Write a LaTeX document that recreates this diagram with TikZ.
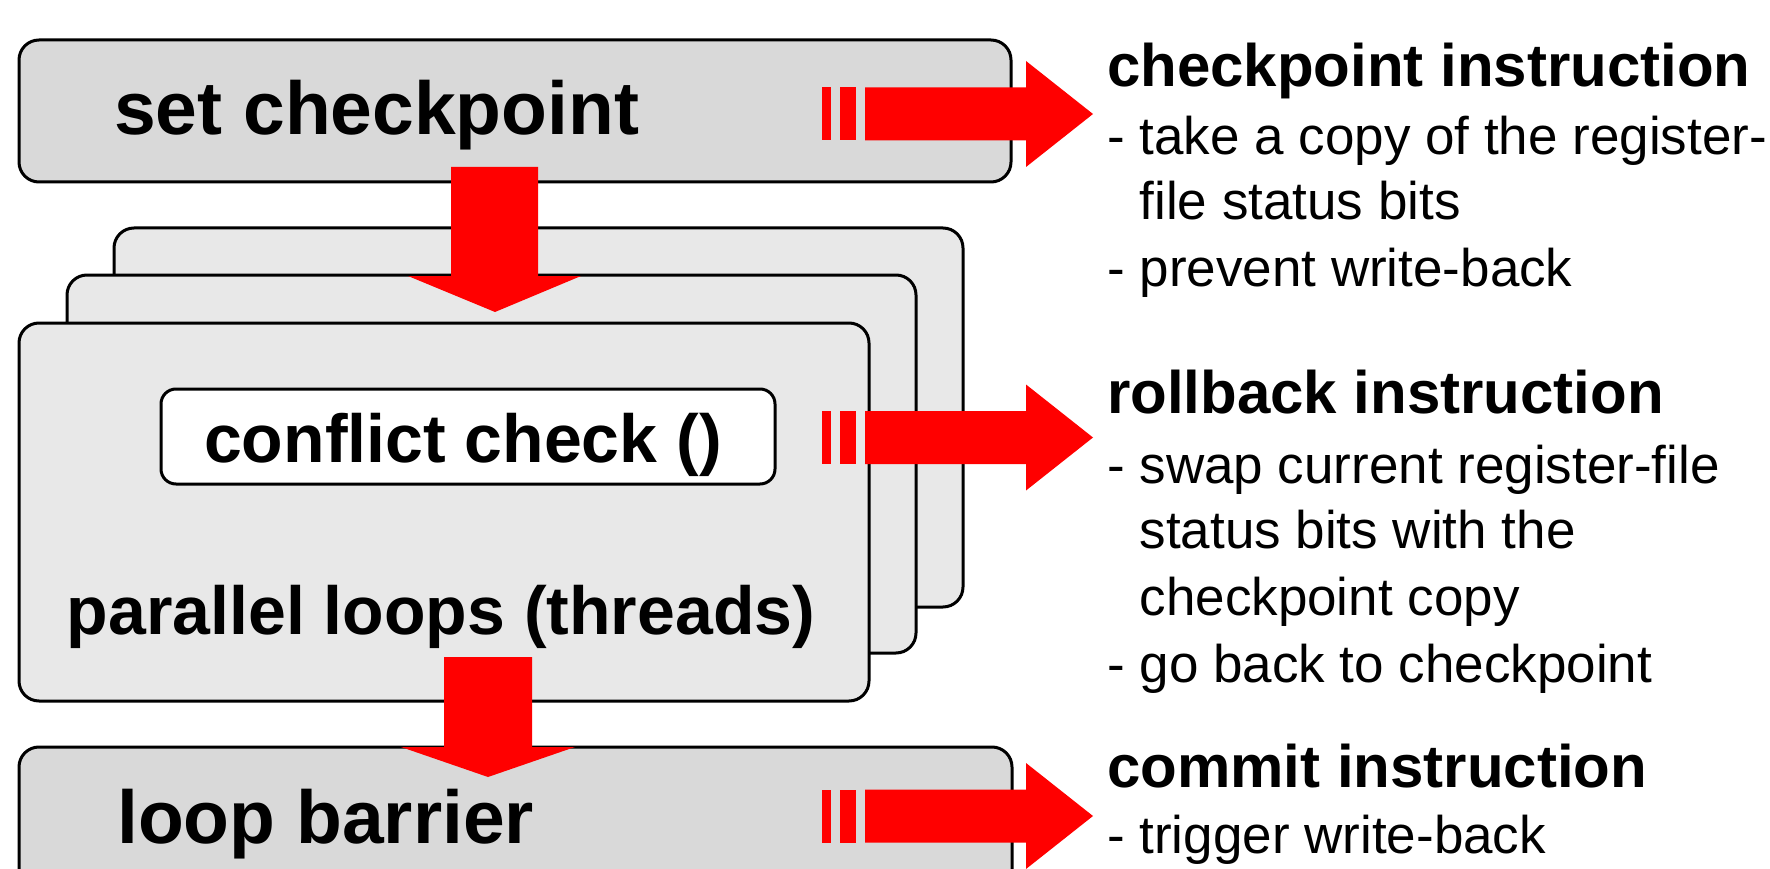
\documentclass[tikz,border=0pt]{standalone}
\usepackage{fontspec}
\setmainfont{Liberation Sans}
\definecolor{boxdark}{HTML}{D9D9D9}
\definecolor{boxlight}{HTML}{E8E8E8}
\definecolor{arrowred}{HTML}{FF0000}
\begin{document}
\begin{tikzpicture}[x=1pt,y=-1pt,
  box/.style={draw=black, line width=3pt, rounded corners=20pt, anchor=north west, inner sep=0pt, outer sep=0pt},
  bigbold/.style={anchor=base west, inner sep=0pt, font=\bfseries\fontsize{75}{80}\selectfont},
  midbold/.style={anchor=base, inner sep=0pt, font=\bfseries\fontsize{68}{72}\selectfont},
  head/.style={anchor=base west, inner sep=0pt, font=\bfseries\fontsize{60}{66}\selectfont},
  item/.style={anchor=base west, inner sep=0pt, font=\fontsize{53}{60}\selectfont},
  rarrow/.pic={
    \fill[arrowred] (822,-26.5) rectangle (831,26.5);
    \fill[arrowred] (840,-26.5) rectangle (856,26.5);
    \fill[arrowred] (865,-26.5) -- (1026,-26.5) -- (1026,-53) -- (1093,0)
       -- (1026,53) -- (1026,26.5) -- (865,26.5) -- cycle;
  }
]
\clip (0,0) rectangle (1770,869);
\fill[white] (0,0) rectangle (1770,869);

% stacked thread boxes
\node[box, fill=boxlight, minimum width=849, minimum height=379] (b3) at (114,228) {};
\node[box, fill=boxlight, minimum width=849, minimum height=378] (b2) at (67,275) {};
\node[box, fill=boxlight, minimum width=850, minimum height=378] (b1) at (19,323) {};
\node[box, fill=white, rounded corners=15pt, minimum width=614, minimum height=95] (cc) at (161,389) {};

% set checkpoint / loop barrier
\node[box, fill=boxdark, minimum width=992, minimum height=142] (sc) at (19,40) {};
\node[box, fill=boxdark, minimum width=993, minimum height=160] (lb) at (19,747) {};

% labels in boxes
\node[bigbold] (tsc) at (114,135) {set checkpoint};
\node[bigbold] (tlb) at (117,843) {loop barrier};
\node[midbold] (tcc) at (463,462) {conflict check ()};
\node[midbold] (tpl) at (441,634) {parallel loops (threads)};

% right-hand descriptions
\node[head] (h1) at (1107,87) {checkpoint instruction};
\node[item] (h1a) at (1107,155) {- take a copy of the register-};
\node[item] (h1b) at (1107,220) {\phantom{- }file status bits};
\node[item] (h1c) at (1107,287) {- prevent write-back};

\node[head] (h2) at (1107,413) {rollback instruction};
\node[item] (h2a) at (1107,483) {- swap current register-file};
\node[item] (h2b) at (1107,548) {\phantom{- }status bits with the};
\node[item] (h2c) at (1107,615) {\phantom{- }checkpoint copy};
\node[item] (h2d) at (1107,682) {- go back to checkpoint};

\node[head] (h3) at (1107,787) {commit instruction};
\node[item] (h3a) at (1107,853) {- trigger write-back};

% down arrows
\fill[arrowred] (451,167) -- (538,167) -- (538,276) -- (581,276) -- (495,312)
   -- (408,276) -- (451,276) -- cycle;
\fill[arrowred] (444,657) -- (532,657) -- (532,747) -- (575,747) -- (488,777)
   -- (401,747) -- (444,747) -- cycle;

% right arrows
\pic at (0,114) {rarrow};
\pic at (0,437.5) {rarrow};
\pic at (0,816) {rarrow};
\end{tikzpicture}
\end{document}
